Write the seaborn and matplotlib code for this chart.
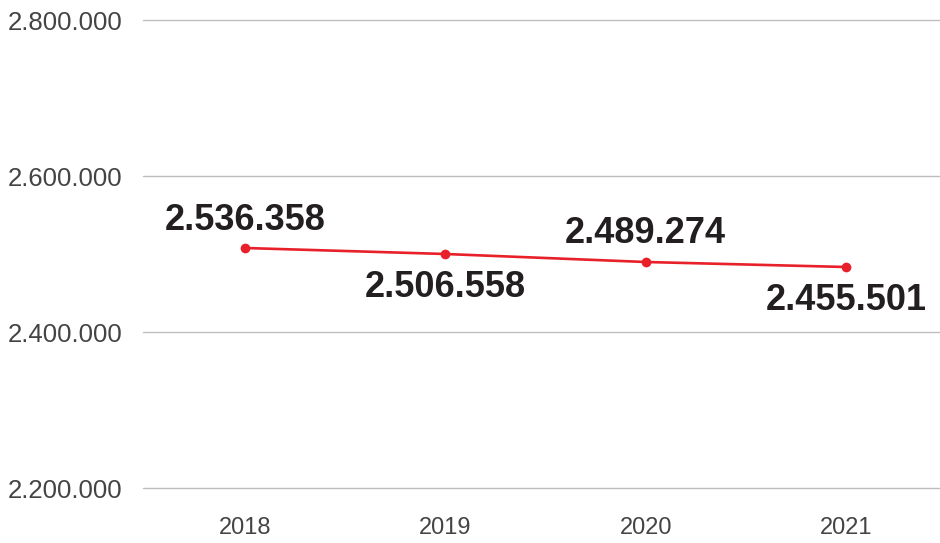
import matplotlib
matplotlib.use("Agg")
import matplotlib.pyplot as plt
import seaborn as sns
import pandas as pd

years = [2018, 2019, 2020, 2021]
values = [2507692, 2500000, 2489744, 2483333]
value_labels = ["2.536.358", "2.506.558", "2.489.274", "2.455.501"]
label_offsets = [18, -43, 19, -43]
y_ticks = [2200000, 2400000, 2600000, 2800000]
y_tick_labels = ["2.200.000", "2.400.000", "2.600.000", "2.800.000"]

df = pd.DataFrame({"year": years, "value": values})

sns.set_theme(style="white")
plt.rcParams["font.family"] = ["Liberation Sans", "DejaVu Sans"]

fig = plt.figure(figsize=(9.4, 5.43), dpi=100)
ax = fig.add_axes([143 / 940, 55 / 543, 797 / 940, 468 / 543])

sns.lineplot(data=df, x="year", y="value", ax=ax, color="#e8202a",
             linewidth=1.9, marker="o", markersize=7, markeredgewidth=0,
             zorder=3)

ax.set_xlim(2017.491, 2021.469)
ax.set_ylim(2200000, 2800000)
ax.set_yticks(y_ticks)
ax.set_yticklabels(y_tick_labels)
ax.set_xticks(years)
ax.set_xticklabels([str(y) for y in years])
ax.tick_params(axis="y", length=0, pad=15, labelsize=18.5, labelcolor="#444444")
ax.tick_params(axis="x", length=0, pad=21, labelsize=17, labelcolor="#444444")
ax.set_xlabel("")
ax.set_ylabel("")
ax.grid(axis="y", color="#bdbdbd", linewidth=1.0)
ax.grid(axis="x", visible=False)
for gl in ax.get_ygridlines():
    gl.set_clip_on(False)
for s in ax.spines.values():
    s.set_visible(False)

for x, v, lab, off in zip(years, values, value_labels, label_offsets):
    ax.annotate(lab, (x, v), xytext=(0, off), textcoords="offset pixels",
                ha="center", va="baseline", fontsize=26, fontweight="bold",
                color="#231f20")

fig.savefig("out.png", dpi=100)
